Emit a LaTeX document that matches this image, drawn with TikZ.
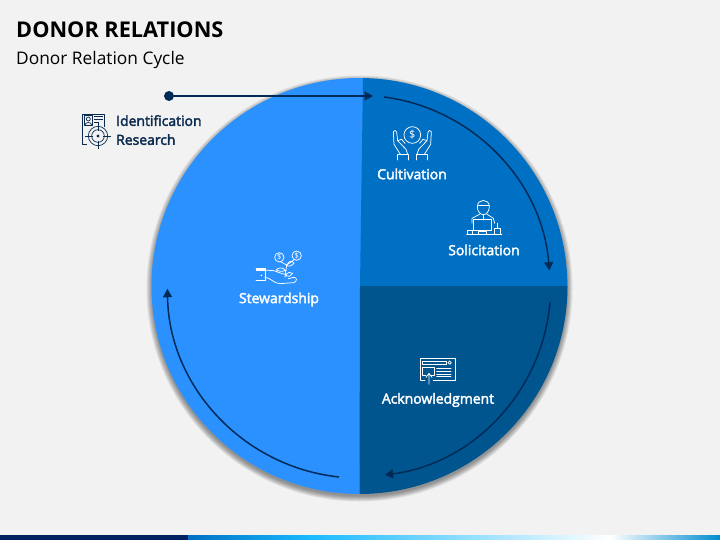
\documentclass[tikz,border=0pt]{standalone}
\usepackage{fontspec}
\setmainfont{Open Sans}
\newfontfamily\semif[FakeBold=2.6]{Open Sans}
\usetikzlibrary{arrows.meta}
\definecolor{bgc}{HTML}{F2F2F2}
\definecolor{leftc}{HTML}{2A91FF}
\definecolor{topc}{HTML}{0070C4}
\definecolor{botc}{HTML}{00558F}
\definecolor{navy}{HTML}{002A58}
\definecolor{inkc}{HTML}{0B2A4F}
\tikzset{
  lbl/.style={text=white,font=\fontsize{14}{16}\selectfont\semif,inner sep=0pt},
  idl/.style={text=inkc,font=\fontsize{14}{19}\selectfont\semif,inner sep=0pt,align=left},
  flow/.style={draw=navy,line width=1.5pt,-{Triangle[length=8.5pt,width=9pt]}},
  ico/.style={draw=white,line width=0.75pt,line join=round,line cap=round},
  icod/.style={draw=inkc,line width=0.7pt,line join=round}
}
\begin{document}
\begin{tikzpicture}[x=1bp,y=-1bp]
\useasboundingbox (0,0) rectangle (720,540);
\fill[bgc] (0,0) rectangle (720,540);
% footer bar
\fill[fill={rgb,255:red,0;green,32;blue,96}] (0,535) rectangle (188,540);
\shade[left color=topc,right color=cyan!70!blue!90!white] (188,535) rectangle (310,540);
\shade[left color=cyan!70!blue!90!white,right color=white] (310,535) rectangle (610,540);
\shade[left color=white,right color=topc!80!cyan] (610,535) rectangle (720,540);
% title
\node[anchor=west,inner sep=0pt,font=\fontsize{21.8}{24}\selectfont\bfseries] (title) at (16,29.5) {DONOR RELATIONS};
\node[anchor=west,inner sep=0pt,font=\fontsize{17.4}{20}\selectfont] (sub) at (16,60.5) {Donor Relation Cycle};
% shadow
\foreach \r in {213,212,211,210,209,208}{
  \fill[black,opacity=0.08] (359.5,288.5) circle (\r);
}
\coordinate (c) at (359.5,286);
% sectors
\fill[leftc] (c) ++(90:208) arc (90:271:208) -- cycle;
\fill[topc] (360,286) -- (363,78) arc (-89:0:208) -- cycle;
\fill[botc] (360,286) -- (567.5,286) arc (0:90:208) -- cycle;
% connectors
\coordinate (a1) at (384,97);
\coordinate (a2) at (550,302);
\coordinate (a3) at (339,477);
\coordinate (lineend) at (373,96);
\node[circle,fill=navy,minimum size=10pt,inner sep=0pt] (dot) at (169,96) {};
\draw[flow] (dot) -- (lineend);
\draw[flow] (a1) arc (-82.6:-4.6:190.5);
\draw[flow] (a2) arc (4.8:82.6:190.5);
\draw[flow] (a3) arc (96.1:179.2:192);
% labels
\node[lbl] (cult) at (412,174) {Cultivation};
\node[lbl] (soli) at (484,250) {Solicitation};
\node[lbl] (ackn) at (438,400) {Acknowledgment};
\node[lbl] (stew) at (279,299.5) {Stewardship};
\node[idl,anchor=north west] (iden) at (116,115) {Identification\\Research};
% identification icon
\begin{scope}[shift={(60,70)},scale=1/3]
\draw[icod] (80,222) -- (68,222) -- (68,133) -- (132,133) -- (132,172);
\draw[icod] (72,137) rectangle (98,166);
\draw[icod] (85,147) circle (6);
\draw[icod] (75,165) .. controls (76,155) and (94,155) .. (95,165);
\draw[icod] (102,139) -- (128,139) (102,149) -- (128,149) (102,158) -- (118,158);
\draw[icod] (114,198) circle (29) (114,198) circle (19);
\fill[inkc] (114,198) circle (5);
\draw[icod] (114,158) -- (114,182) (114,214) -- (114,236) (75,198) -- (98,198) (130,198) -- (153,198);
\end{scope}
% cultivation icon
\begin{scope}[shift={(370,110)},scale=1/3]
\draw[ico] (127,75) circle (25);
\node[text=white,inner sep=0pt,font=\fontsize{11}{11}\selectfont] (dollar1) at (127,75) {\$};
\draw[ico] (82,150) -- (82,133) -- (114,133) -- (114,150);
\draw[ico] (91,133) -- (72,103) -- (70,65) .. controls (72,60) and (79,60) .. (80,66) -- (83,92) -- (108,118) -- (113,133);
\draw[ico] (83,92) -- (95,88) -- (105,100);
\draw[ico] (172,150) -- (172,133) -- (140,133) -- (140,150);
\draw[ico] (163,133) -- (182,103) -- (184,65) .. controls (182,60) and (175,60) .. (174,66) -- (171,92) -- (146,118) -- (141,133);
\draw[ico] (171,92) -- (159,88) -- (149,100);
\end{scope}
% solicitation icon
\begin{scope}[shift={(370,110)},scale=1/3]
\draw[ico] (322,290) .. controls (322,265) and (358,265) .. (358,290) .. controls (358,305) and (348,314) .. (340,314) .. controls (332,314) and (322,305) .. (322,290) -- cycle;
\draw[ico] (322,286) -- (358,286);
\draw[ico] (306,340) -- (306,325) -- (330,312) (374,340) -- (370,325) -- (350,312);
\draw[ico] (340,314) -- (340,330);
\draw[ico] (310,328) rectangle (365,360);
\draw[ico] (290,373) -- (396,373);
\draw[ico] (325,373) -- (325,364) -- (350,364) -- (350,373);
\draw[ico] (291,360) rectangle (308,372);
\draw[ico] (374,372) -- (374,354) -- (391,354) -- (391,372);
\draw[ico] (382,354) -- (382,340);
\end{scope}
% stewardship icon
\begin{scope}[shift={(220,240)},scale=1/3]
\draw[ico] (108,85) -- (135,85) -- (135,120) -- (108,120);
\fill[white] (108,84) rectangle (135,92);
\fill[white] (124,106) circle (2.5);
\draw[ico] (135,90) -- (160,92) .. controls (170,94) and (180,100) .. (195,103);
\draw[ico] (135,112) .. controls (150,112) and (160,130) .. (180,131) -- (220,128) .. controls (232,126) and (232,112) .. (222,112) -- (205,116);
\draw[ico] (178,52) circle (14) (230,47) circle (14);
\node[text=white,inner sep=0pt,font=\fontsize{7.5}{7.5}\selectfont] (dollar2) at (178,52) {\$};
\node[text=white,inner sep=0pt,font=\fontsize{7.5}{7.5}\selectfont] (dollar3) at (230,47) {\$};
\draw[ico] (195,112) -- (200,75) -- (183,66) (200,75) -- (222,60);
\draw[ico] (198,92) .. controls (185,78) and (172,85) .. (168,90) .. controls (180,94) and (190,96) .. (198,92) -- cycle;
\draw[ico] (200,78) .. controls (205,62) and (215,60) .. (222,70) .. controls (215,78) and (206,80) .. (200,78) -- cycle;
\draw[ico] (197,108) .. controls (202,95) and (212,95) .. (218,100) .. controls (214,108) and (205,112) .. (197,108) -- cycle;
\end{scope}
% acknowledgment icon
\begin{scope}[shift={(370,340)},scale=1/3]
\draw[ico] (152,120) -- (152,55) -- (257,55) -- (257,120) -- (190,120);
\draw[ico] (152,120) -- (165,120);
\draw[ico] (158,63) rectangle (228,73);
\draw[ico] (239,68) circle (5);
\draw[ico] (158,106) -- (158,82) -- (193,82) -- (193,106) -- (184,106) (158,106) -- (168,106);
\draw[ico] (200,86) -- (243,86) (200,94) -- (243,94) (200,102) -- (243,102) (200,110) -- (243,110);
\draw[ico] (177,133) -- (177,100) (168,112) -- (177,100) -- (186,112);
\end{scope}
\end{tikzpicture}
\end{document}
